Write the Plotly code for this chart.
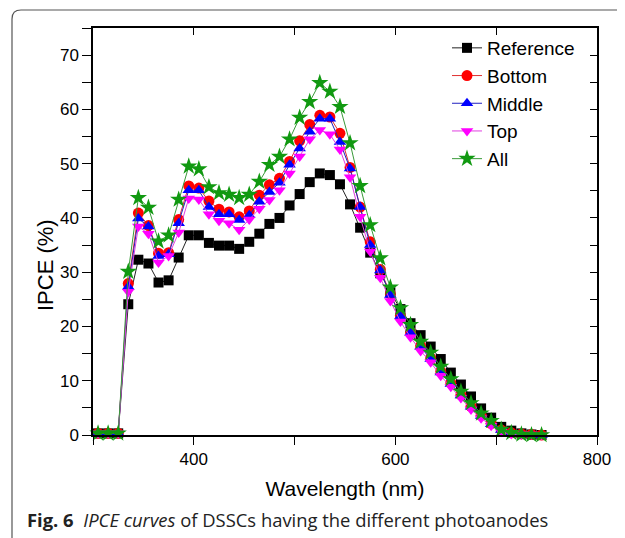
import plotly.graph_objects as go

wavelength = [305, 315, 325, 335, 345, 355, 365, 375, 385, 395, 405, 415, 425, 435, 445,
              455, 465, 475, 485, 495, 505, 515, 525, 535, 545, 555, 565, 575, 585, 595,
              605, 615, 625, 635, 645, 655, 665, 675, 685, 695, 705, 715, 725, 735, 745]

reference = [0.3, 0.3, 0.3, 24.1, 32.3, 31.6, 28.1, 28.5, 32.7, 36.8, 36.8, 35.4, 34.9, 34.9, 34.3,
             35.6, 37.1, 38.9, 40.0, 42.3, 44.4, 46.6, 48.2, 47.9, 46.2, 42.5, 38.2, 33.6, 29.8, 26.3,
             23.2, 20.6, 18.4, 16.3, 14.0, 11.5, 9.3, 7.1, 4.9, 3.2, 1.5, 0.8, 0.3, 0.1, 0.0]

bottom = [0.3, 0.3, 0.3, 27.9, 40.9, 38.6, 33.5, 33.6, 39.7, 45.9, 45.5, 43.1, 41.6, 41.1, 40.2,
          41.3, 44.2, 46.1, 47.3, 50.4, 54.2, 57.2, 58.9, 58.6, 55.6, 49.3, 42.0, 35.6, 30.5, 26.0,
          22.0, 19.0, 16.4, 14.2, 11.7, 9.6, 7.4, 5.3, 3.6, 2.1, 0.9, 0.4, 0.2, 0.1, 0.0]

middle = [0.3, 0.3, 0.3, 27.3, 39.9, 38.4, 33.0, 33.3, 39.0, 45.1, 45.1, 42.0, 40.7, 40.7, 39.6,
          40.5, 43.0, 44.8, 46.5, 49.8, 52.8, 55.9, 58.3, 58.3, 54.0, 49.1, 42.0, 35.0, 30.3, 25.8,
          21.9, 18.8, 16.2, 14.0, 11.5, 9.4, 7.3, 5.2, 3.5, 2.0, 0.9, 0.4, 0.2, 0.1, 0.0]

top = [0.3, 0.3, 0.3, 26.4, 38.4, 37.1, 31.8, 33.0, 37.3, 43.6, 43.4, 40.7, 39.5, 39.0, 37.8,
       39.7, 41.7, 43.3, 45.1, 48.2, 51.3, 54.5, 56.2, 55.4, 52.6, 47.5, 40.2, 33.8, 29.0, 24.7,
       20.9, 18.0, 15.5, 13.4, 10.9, 8.9, 6.8, 4.7, 3.1, 1.7, 0.6, 0.2, 0.1, 0.1, 0.0]

all_layers = [0.3, 0.3, 0.3, 30.1, 43.7, 41.9, 35.7, 36.8, 43.4, 49.5, 49.0, 45.7, 44.6, 44.3, 43.7,
              44.3, 46.7, 49.8, 51.3, 54.5, 58.5, 61.4, 64.9, 63.3, 60.5, 53.8, 45.9, 38.7, 32.6, 27.2,
              23.4, 20.3, 17.2, 15.2, 12.6, 10.3, 8.0, 5.9, 4.0, 2.6, 1.0, 0.4, 0.1, 0.0, 0.0]

series_names = ["Reference", "Bottom", "Middle", "Top", "All"]
series_values = [reference, bottom, middle, top, all_layers]
x_ticks_labeled = [400, 600, 800]
y_ticks_labeled = [0, 10, 20, 30, 40, 50, 60, 70]

styles = [
    dict(color="#000000", line="#222222", symbol="square", size=10),
    dict(color="#ff0000", line="#e03030", symbol="circle", size=11),
    dict(color="#0000ff", line="#2020c0", symbol="triangle-up", size=11),
    dict(color="#ff00ff", line="#e040e0", symbol="triangle-down", size=11),
    dict(color="#119911", line="#3a9a3a", symbol="star", size=13),
]

fig = go.Figure()
for name, vals, st in zip(series_names, series_values, styles):
    fig.add_trace(go.Scatter(
        x=wavelength, y=vals, name=name, mode="lines+markers",
        line=dict(color=st["line"], width=1),
        marker=dict(color=st["color"], symbol=st["symbol"], size=st["size"], line=dict(width=0)),
        cliponaxis=False,
    ))

# invisible trace to carry the mirrored (inward-tick) top/right axes
fig.add_trace(go.Scatter(x=[None], y=[None], xaxis="x2", yaxis="y2", showlegend=False,
                         hoverinfo="skip", mode="markers"))

OFF = 8  # page body margin
W, H = 625 - OFF, 538 - OFF
L, T = 93 - OFF, 28 - OFF
pw, ph = 504, 407
R, B = W - L - pw, H - T - ph


def px(x):  # screen x -> paper
    return (x - OFF - L) / pw


def py(y):  # screen y -> paper
    return (T + ph - (y - OFF)) / ph


axis_font = dict(family="Arial, Liberation Sans, sans-serif", size=17, color="#000")

fig.update_layout(
    width=W, height=H,
    margin=dict(l=L, r=R, t=T, b=B),
    paper_bgcolor="white", plot_bgcolor="white",
    font=dict(family="Arial, Liberation Sans, sans-serif", color="#000"),
    xaxis=dict(
        range=[300, 800], tickvals=x_ticks_labeled, ticks="outside", ticklen=8, tickwidth=1.3,
        tickcolor="#000", showline=True, linecolor="#000", linewidth=1.5, mirror=True,
        showgrid=False, zeroline=False, tickfont=axis_font,
        minor=dict(dtick=100, tick0=300, ticks="outside", ticklen=8, tickwidth=1.3, tickcolor="#000", showgrid=False),
        title=dict(text="Wavelength (nm)", font=dict(family="Arial, Liberation Sans, sans-serif", size=21), standoff=13),
    ),
    yaxis=dict(
        range=[0, 75], tickvals=y_ticks_labeled, ticks="outside", ticklen=9, tickwidth=1.3,
        tickcolor="#000", showline=True, linecolor="#000", linewidth=1.5, mirror=True,
        showgrid=False, zeroline=False, tickfont=axis_font,
        minor=dict(dtick=5, tick0=0, ticks="outside", ticklen=9, tickwidth=1.3, tickcolor="#000", showgrid=False),
    ),
    xaxis2=dict(
        range=[300, 800], overlaying="x", side="top", anchor="y2", dtick=100, tick0=300,
        ticks="inside", ticklen=7, tickwidth=1.3, tickcolor="#000", showticklabels=False,
        showline=False, showgrid=False, zeroline=False,
    ),
    yaxis2=dict(
        range=[0, 75], overlaying="y", side="right", anchor="x2", dtick=5, tick0=0,
        ticks="inside", ticklen=7, tickwidth=1.3, tickcolor="#000", showticklabels=False,
        showline=False, showgrid=False, zeroline=False,
    ),
    legend=dict(
        x=px(447), y=py(29), xanchor="left", yanchor="top",
        font=dict(family="Arial, Liberation Sans, sans-serif", size=19, color="#000"),
        bgcolor="rgba(0,0,0,0)", borderwidth=0, tracegroupgap=0,
    ),
    showlegend=True,
)

# y-axis title (placed slightly below the axis centre, as in the original)
fig.add_annotation(
    xref="paper", yref="paper", x=px(45), y=py(265), xanchor="center", yanchor="middle",
    text="IPCE (%)", textangle=-90, showarrow=False,
    font=dict(family="Arial, Liberation Sans, sans-serif", size=22, color="#000"),
)

# figure frame (rounded corner at top-left)
frame_path = (f"M {px(12)},{py(540)} L {px(12)},{py(19)} "
              f"Q {px(12)},{py(10)} {px(21)},{py(10)} L {px(625)},{py(10)}")
fig.add_shape(type="path", xref="paper", yref="paper", path=frame_path,
              line=dict(color="#555555", width=1.2))

fig.add_annotation(
    xref="paper", yref="paper", x=px(25), y=py(519), xanchor="left", yanchor="middle",
    text="<b>Fig. 6</b>&nbsp;&nbsp;<i>IPCE curves</i> of DSSCs having the different photoanodes",
    showarrow=False, font=dict(family="Open Sans, Noto Sans, sans-serif", size=18.4, color="#222"),
)

fig.write_html("out.html")
